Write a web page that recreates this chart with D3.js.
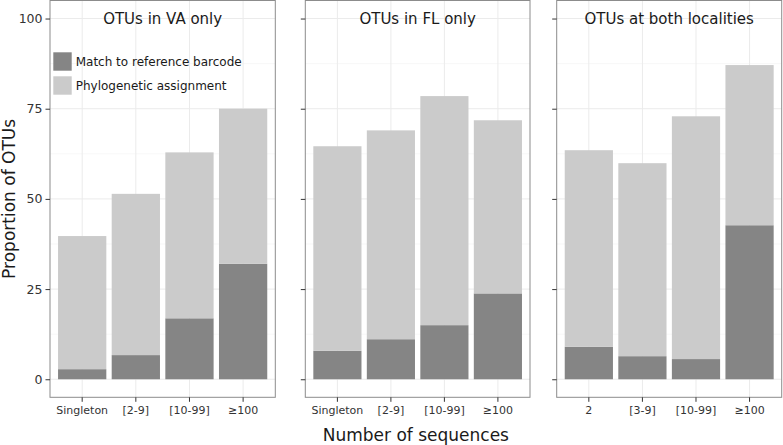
<!DOCTYPE html>
<html>
<head>
<meta charset="utf-8">
<script src="https://cdn.jsdelivr.net/npm/d3@7"></script>
<style>
  html, body { margin: 0; padding: 0; background: #fff; }
  svg { display: block; font-family: "DejaVu Sans", sans-serif; }
</style>
</head>
<body>
<svg id="chart" width="783" height="445"></svg>
<script>
// ---- Data ----
const panelTitles = ["OTUs in VA only", "OTUs in FL only", "OTUs at both localities"];
const categoriesVA = ["Singleton", "[2-9]", "[10-99]", "≥100"];
const categoriesFL = ["Singleton", "[2-9]", "[10-99]", "≥100"];
const categoriesBoth = ["2", "[3-9]", "[10-99]", "≥100"];
const matchVA = [2.8, 6.7, 16.9, 32.0];
const phyloVA = [36.9, 44.7, 46.0, 43.0];
const matchFL = [7.9, 11.1, 15.0, 23.8];
const phyloFL = [56.7, 57.9, 63.5, 48.0];
const matchBoth = [9.0, 6.4, 5.6, 42.7];
const phyloBoth = [54.5, 53.5, 67.3, 44.4];
const seriesNames = ["Match to reference barcode", "Phylogenetic assignment"];
const yTicks = [0, 25, 50, 75, 100];
const yMinorTicks = [12.5, 37.5, 62.5, 87.5];

const panels = [
  { title: panelTitles[0], cats: categoriesVA, match: matchVA, phylo: phyloVA, x0: 50, x1: 275.3 },
  { title: panelTitles[1], cats: categoriesFL, match: matchFL, phylo: phyloFL, x0: 305.3, x1: 530 },
  { title: panelTitles[2], cats: categoriesBoth, match: matchBoth, phylo: phyloBoth, x0: 556.7, x1: 781.7 }
];

const colors = { match: "#858585", phylo: "#cbcbcb" };
const svg = d3.select("#chart");
const panelTop = 0.5, panelBottom = 397.3;
const y = d3.scaleLinear().domain([-5, 105]).range([panelBottom, panelTop]);

panels.forEach((p, pi) => {
  const g = svg.append("g");
  const x = d3.scaleBand().domain(p.cats).range([p.x0, p.x1]).paddingInner(0.1).paddingOuter(0.15);

  // grid
  g.selectAll(".minor").data(yMinorTicks).join("line")
    .attr("x1", p.x0).attr("x2", p.x1)
    .attr("y1", d => y(d)).attr("y2", d => y(d))
    .attr("stroke", "#f2f2f2").attr("stroke-width", 0.6);
  g.selectAll(".major").data(yTicks).join("line")
    .attr("x1", p.x0).attr("x2", p.x1)
    .attr("y1", d => y(d)).attr("y2", d => y(d))
    .attr("stroke", "#ebebeb").attr("stroke-width", 1);
  g.selectAll(".vmajor").data(p.cats).join("line")
    .attr("x1", d => x(d) + x.bandwidth() / 2).attr("x2", d => x(d) + x.bandwidth() / 2)
    .attr("y1", panelTop).attr("y2", panelBottom)
    .attr("stroke", "#ebebeb").attr("stroke-width", 1);

  // stacked bars
  const rows = p.cats.map((c, i) => ({ cat: c, match: p.match[i], phylo: p.phylo[i] }));
  const stacked = d3.stack().keys(["match", "phylo"])(rows);
  stacked.forEach(layer => {
    g.append("g").selectAll("rect").data(layer).join("rect")
      .attr("x", d => x(d.data.cat))
      .attr("width", x.bandwidth())
      .attr("y", d => y(d[1]))
      .attr("height", d => y(d[0]) - y(d[1]))
      .attr("fill", colors[layer.key]);
  });

  // panel border
  g.append("rect").attr("x", p.x0).attr("y", panelTop)
    .attr("width", p.x1 - p.x0).attr("height", panelBottom - panelTop)
    .attr("fill", "none").attr("stroke", "#8c8c8c").attr("stroke-width", 1);

  // panel title
  g.append("text").attr("x", (p.x0 + p.x1) / 2).attr("y", 24)
    .attr("text-anchor", "middle").attr("font-size", 15).attr("fill", "#1a1a1a")
    .text(p.title);

  // y axis ticks
  const yAxis = d3.axisLeft(y).tickValues(yTicks).tickSize(4.5).tickPadding(3)
    .tickFormat(pi === 0 ? d3.format("d") : () => "");
  const ya = g.append("g").attr("transform", `translate(${p.x0},0)`).call(yAxis);
  ya.select(".domain").remove();
  ya.selectAll(".tick line").attr("stroke", "#333");
  ya.selectAll(".tick text").attr("font-size", 12.5).attr("fill", "#333").attr("font-family", "DejaVu Sans");

  // x axis ticks
  const xAxis = d3.axisBottom(x).tickSize(4.5).tickPadding(4);
  const xa = g.append("g").attr("transform", `translate(0,${panelBottom})`).call(xAxis);
  xa.select(".domain").remove();
  xa.selectAll(".tick line").attr("stroke", "#333");
  xa.selectAll(".tick text").attr("font-size", 11).attr("fill", "#333").attr("font-family", "DejaVu Sans");

  // legend in first panel
  if (pi === 0) {
    const lg = g.append("g");
    const keyColors = [colors.match, colors.phylo];
    seriesNames.forEach((name, i) => {
      const ky = 52.3 + i * 24;
      lg.append("rect").attr("x", 53.3).attr("y", ky).attr("width", 18.4).attr("height", 18.4)
        .attr("fill", keyColors[i]);
      lg.append("text").attr("x", 75.7).attr("y", ky + 9.2).attr("dy", "0.35em")
        .attr("font-size", 12).attr("fill", "#1a1a1a").text(name);
    });
  }
});

// axis titles
svg.append("text").attr("x", (panels[0].x0 + panels[2].x1) / 2).attr("y", 440.5)
  .attr("text-anchor", "middle").attr("font-size", 17).attr("fill", "#1a1a1a")
  .text("Number of sequences");
svg.append("text").attr("transform", `translate(15,${(panelTop + panelBottom) / 2}) rotate(-90)`)
  .attr("text-anchor", "middle").attr("font-size", 17).attr("fill", "#1a1a1a")
  .text("Proportion of OTUs");
</script>
</body>
</html>
